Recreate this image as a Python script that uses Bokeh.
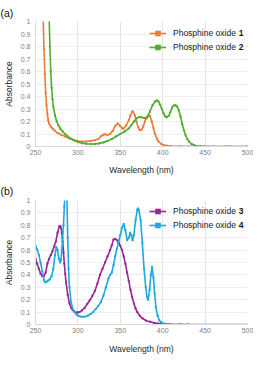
from bokeh.plotting import figure
from bokeh.models import Legend, LegendItem, Label, FixedTicker, NumeralTickFormatter, Title
from bokeh.layouts import column
from bokeh.embed import file_html
from bokeh.resources import INLINE

# ---------------- data ----------------
x_ticks = [250, 300, 350, 400, 450, 500]
y_ticks = [0, 0.1, 0.2, 0.3, 0.4, 0.5, 0.6, 0.7, 0.8, 0.9, 1]

wl_1 = [255, 259, 260, 261, 262, 263, 264, 265, 266, 268, 270, 273, 276, 280, 285, 290, 295, 300,
        305, 310, 315, 320, 324, 327, 330, 332, 335, 338, 341, 344, 347, 350, 352, 354, 357, 360,
        362, 364, 365, 367, 369, 371, 373, 375, 377, 379, 381, 383, 385, 387, 389, 391, 393, 395,
        398, 401, 405, 410, 420, 440, 460, 480, 500]
abs_1 = [2.0, 1.05, 0.78, 0.58, 0.43, 0.33, 0.26, 0.21, 0.185, 0.16, 0.145, 0.125, 0.108, 0.095,
         0.08, 0.065, 0.052, 0.044, 0.04, 0.04, 0.045, 0.05, 0.06, 0.08, 0.095, 0.098, 0.092, 0.1,
         0.125, 0.165, 0.185, 0.165, 0.145, 0.145, 0.17, 0.21, 0.25, 0.278, 0.28, 0.25, 0.2, 0.155,
         0.132, 0.135, 0.16, 0.2, 0.235, 0.25, 0.245, 0.2, 0.15, 0.1, 0.065, 0.04, 0.022, 0.012,
         0.007, 0.004, 0.002, 0.001, 0.0, 0.0, 0.0]

wl_2 = [263, 266, 267, 268, 269, 270, 271, 273, 275, 277, 279, 282, 285, 288, 291, 294, 297, 300,
        305, 310, 315, 320, 325, 330, 335, 340, 345, 350, 355, 360, 363, 366, 369, 372, 375, 378,
        380, 382, 385, 388, 391, 393, 395, 397, 399, 401, 403, 405, 407, 409, 411, 413, 415, 417,
        419, 421, 423, 425, 427, 429, 431, 434, 437, 440, 445, 450, 475, 500]
abs_2 = [2.0, 1.05, 0.8, 0.6, 0.47, 0.38, 0.32, 0.25, 0.2, 0.17, 0.145, 0.12, 0.1, 0.08, 0.066,
         0.055, 0.045, 0.037, 0.027, 0.022, 0.02, 0.021, 0.025, 0.033, 0.045, 0.06, 0.08, 0.1,
         0.12, 0.145, 0.17, 0.2, 0.225, 0.235, 0.235, 0.228, 0.225, 0.235, 0.28, 0.33, 0.36,
         0.368, 0.36, 0.335, 0.3, 0.265, 0.24, 0.235, 0.245, 0.275, 0.31, 0.328, 0.33, 0.32,
         0.29, 0.24, 0.18, 0.13, 0.09, 0.06, 0.04, 0.02, 0.01, 0.005, 0.002, 0.0, 0.0, 0.0]

wl_3 = [250, 252, 254, 256, 258, 260, 262, 264, 266, 268, 270, 272, 274, 276, 278, 279, 280, 281,
        282, 283, 284, 285, 286, 288, 290, 292, 294, 296, 298, 300, 302, 305, 308, 311, 314, 317,
        320, 323, 326, 329, 332, 335, 338, 340, 342, 344, 346, 348, 350, 352, 354, 356, 358, 360,
        362, 364, 366, 368, 370, 373, 376, 380, 385, 390, 395, 400, 405, 410, 420, 430]
abs_3 = [0.53, 0.49, 0.45, 0.41, 0.39, 0.39, 0.42, 0.49, 0.53, 0.56, 0.59, 0.63, 0.67, 0.74, 0.79,
         0.795, 0.78, 0.74, 0.67, 0.58, 0.49, 0.41, 0.34, 0.24, 0.17, 0.135, 0.115, 0.103, 0.097,
         0.096, 0.1, 0.115, 0.135, 0.165, 0.195, 0.23, 0.27, 0.33, 0.4, 0.45, 0.5, 0.55, 0.6, 0.64,
         0.685, 0.69, 0.68, 0.66, 0.635, 0.6, 0.55, 0.49, 0.42, 0.35, 0.28, 0.22, 0.17, 0.13, 0.1,
         0.07, 0.05, 0.033, 0.022, 0.013, 0.008, 0.005, 0.002, 0.001, 0.0, 0.0]

wl_4 = [250, 252, 254, 256, 258, 260, 261, 263, 265, 267, 269, 271, 273, 274.5, 276, 277.5, 279,
        280, 281, 282, 283, 284, 285, 286, 287, 288, 289, 290, 292, 294, 296, 298, 300, 303, 306,
        309, 312, 315, 318, 321, 324, 327, 330, 333, 336, 338, 340, 342, 344, 346, 348, 350, 352,
        354, 356, 358, 360, 361.5, 363, 364.5, 366, 368, 370, 371, 372, 374, 376, 378, 380, 381.5,
        383, 384.5, 386, 387.5, 389, 390.5, 392, 394, 396, 398, 400, 405, 410, 420, 500]
abs_4 = [0.635, 0.605, 0.56, 0.5, 0.43, 0.36, 0.34, 0.345, 0.355, 0.365, 0.39, 0.45, 0.56, 0.625,
         0.6, 0.53, 0.5, 0.52, 0.6, 0.7, 0.8, 0.95, 1.1, 1.15, 1.05, 0.7, 0.45, 0.3, 0.18, 0.125,
         0.1, 0.082, 0.072, 0.065, 0.063, 0.065, 0.072, 0.085, 0.1, 0.125, 0.15, 0.18, 0.23, 0.3,
         0.37, 0.4, 0.42, 0.48, 0.55, 0.61, 0.67, 0.72, 0.78, 0.81, 0.76, 0.68, 0.7, 0.74, 0.72,
         0.68, 0.72, 0.84, 0.925, 0.935, 0.92, 0.84, 0.66, 0.45, 0.3, 0.22, 0.2, 0.28, 0.4, 0.465,
         0.38, 0.25, 0.14, 0.07, 0.035, 0.018, 0.01, 0.003, 0.001, 0.0, 0.0]

FONT = "Liberation Sans"
LEG_X = 114          # legend offset from frame left (px)
TXT_W = 65.2         # width of "Phosphine oxide " at 8.5px


def make_panel(tag, height, b_top, b_bottom, xl_standoff, tag_standoff, series):
    frame_h = height - b_top - b_bottom
    p = figure(width=253, height=height, output_backend="svg", toolbar_location=None,
               x_range=(250, 500), y_range=(0, 1),
               min_border_left=30, min_border_right=6,
               min_border_top=b_top, min_border_bottom=b_bottom)
    p.outline_line_color = None
    p.background_fill_color = "white"

    p.xaxis.ticker = FixedTicker(ticks=x_ticks)
    p.yaxis.ticker = FixedTicker(ticks=y_ticks)
    p.yaxis.formatter = NumeralTickFormatter(format="0.[0]")
    for ax in (p.xaxis[0], p.yaxis[0]):
        ax.major_tick_line_color = None
        ax.minor_tick_line_color = None
        ax.major_tick_out = 0
        ax.minor_tick_out = 0
        ax.major_tick_in = 0
        ax.axis_line_color = "#d9d9d9"
        ax.major_label_text_font = FONT
        ax.major_label_text_font_size = "7px"
        ax.major_label_text_color = "#7f7f7f"
        ax.axis_label_text_font = FONT
        ax.axis_label_text_font_size = "8.5px"
        ax.axis_label_text_font_style = "normal"
        ax.axis_label_text_color = "#262626"
    p.xaxis.axis_label = "Wavelength (nm)"
    p.yaxis.axis_label = "Absorbance"
    p.xaxis.major_label_standoff = 3
    p.xaxis.axis_label_standoff = xl_standoff
    p.yaxis.major_label_standoff = 5
    p.yaxis.axis_label_standoff = 4

    p.xgrid.grid_line_color = "#e3e3e3"
    p.ygrid.grid_line_color = "#efefef"

    items = []
    for (xs, ys, color, num) in series:
        ln = p.line(xs, ys, line_color=color, line_width=1.6)
        sc = p.scatter(xs, ys, marker="square", size=2, fill_color=color, line_color=None)
        items.append(LegendItem(label="Phosphine oxide", renderers=[ln, sc]))

    legend = Legend(items=items, location=(LEG_X, frame_h - 5 - 28), orientation="vertical",
                    padding=0, margin=0, spacing=0, glyph_width=17, glyph_height=14,
                    label_height=14, label_standoff=7,
                    label_text_font=FONT, label_text_font_size="8.5px",
                    label_text_color="#1a1a1a", border_line_color=None,
                    background_fill_alpha=0)
    p.add_layout(legend)

    for i, (_, _, _, num) in enumerate(series):
        p.add_layout(Label(x=LEG_X + 17 + 7 + TXT_W, y=frame_h - 11 - 14 * i,
                           x_units="screen", y_units="screen", text=num,
                           text_font=FONT, text_font_size="8.5px", text_font_style="bold",
                           text_color="#1a1a1a", text_baseline="middle", text_align="left"))

    p.add_layout(Title(text=tag, align="left", offset=-35, standoff=tag_standoff,
                       vertical_align="top", text_font=FONT, text_font_size="10.5px",
                       text_font_style="normal", text_color="#111111"), "above")
    return p


pa = make_panel("(a)", 178, 21, 32, 7, 1,
                [(wl_1, abs_1, "#EF7B3A", "1"), (wl_2, abs_2, "#50AD2F", "2")])
pb = make_panel("(b)", 178, 22, 31, 8, 3,
                [(wl_3, abs_3, "#9B2795", "3"), (wl_4, abs_4, "#1FA8E0", "4")])

layout = column(pa, pb, spacing=0)
open("out.html", "w").write(file_html(layout, INLINE))
